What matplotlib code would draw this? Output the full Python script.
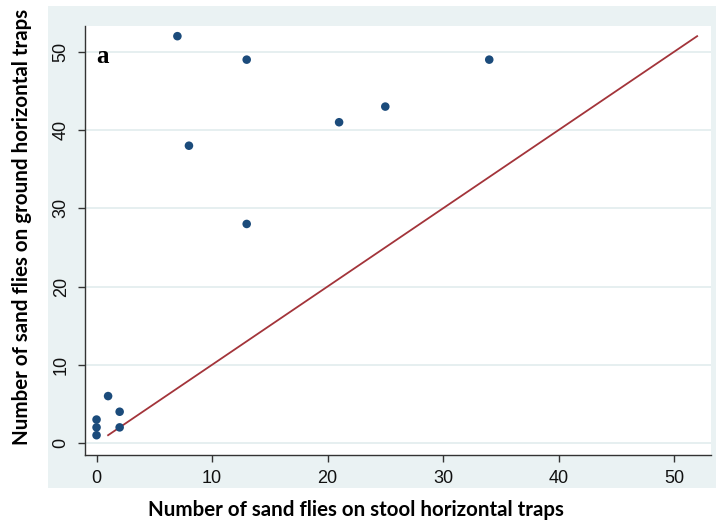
import matplotlib.pyplot as plt
from matplotlib.patches import Rectangle

# stool (x) vs ground (y) horizontal trap counts
stool = [7, 13, 34, 25, 21, 8, 13, 1, 2, 2, 0, 0, 0]
ground = [52, 49, 49, 43, 41, 38, 28, 6, 4, 2, 3, 2, 1]
# reference line of equality
line_x = [1, 52]
line_y = [1, 52]
ticks = [0, 10, 20, 30, 40, 50]

W, H = 718, 528
bg = "#EAF2F3"
grid = "#E2ECEE"
dot = "#1B4B7B"
red = "#A3343A"

plt.rcParams["font.family"] = ["Liberation Sans", "DejaVu Sans"]

fig = plt.figure(figsize=(W / 100, H / 100), dpi=100)
fig.patches.append(Rectangle((48 / W, 1 - 488 / H), (716 - 48) / W, (488 - 6) / H,
                             transform=fig.transFigure, facecolor=bg,
                             edgecolor="none", zorder=-5))

ax = fig.add_axes([85 / W, 1 - 455 / H, (711 - 85) / W, (455 - 26) / H])
ax.set_zorder(2)
ax.set_facecolor("white")

ax.plot(line_x, line_y, color=red, lw=1.3, zorder=2)
ax.scatter(stool, ground, s=38, color=dot, edgecolors="none", zorder=3)

ax.set_xlim(-1.0, 53.2)
ax.set_ylim(-1.53, 53.3)
ax.set_xticks(ticks)
ax.set_yticks(ticks)
ax.tick_params(labelsize=13, length=5, width=1, color="#333333", pad=6, labelcolor="#111111")
for lab in ax.get_yticklabels():
    lab.set_rotation(90)
    lab.set_va("center")

for y in ticks:
    ax.axhline(y, color=grid, lw=1.2, zorder=1)

for side in ["top", "right"]:
    ax.spines[side].set_visible(False)
for side in ["left", "bottom"]:
    ax.spines[side].set_color("#333333")
    ax.spines[side].set_linewidth(1)

ax.text(0.018, 0.955, "a", transform=ax.transAxes, fontsize=18, fontweight="bold",
        family=["Liberation Serif"], va="top", ha="left")

fig.text(356 / W, 1 - 510 / H, "Number of sand flies on stool horizontal traps",
         fontsize=14.8, fontweight="bold", family=["Lato"], ha="center", va="center")
fig.text(22 / W, 1 - 227 / H, "Number of sand flies on ground horizontal traps",
         fontsize=14.8, fontweight="bold", family=["Lato"], ha="center", va="center",
         rotation=90)

fig.savefig("out.png", dpi=100)
